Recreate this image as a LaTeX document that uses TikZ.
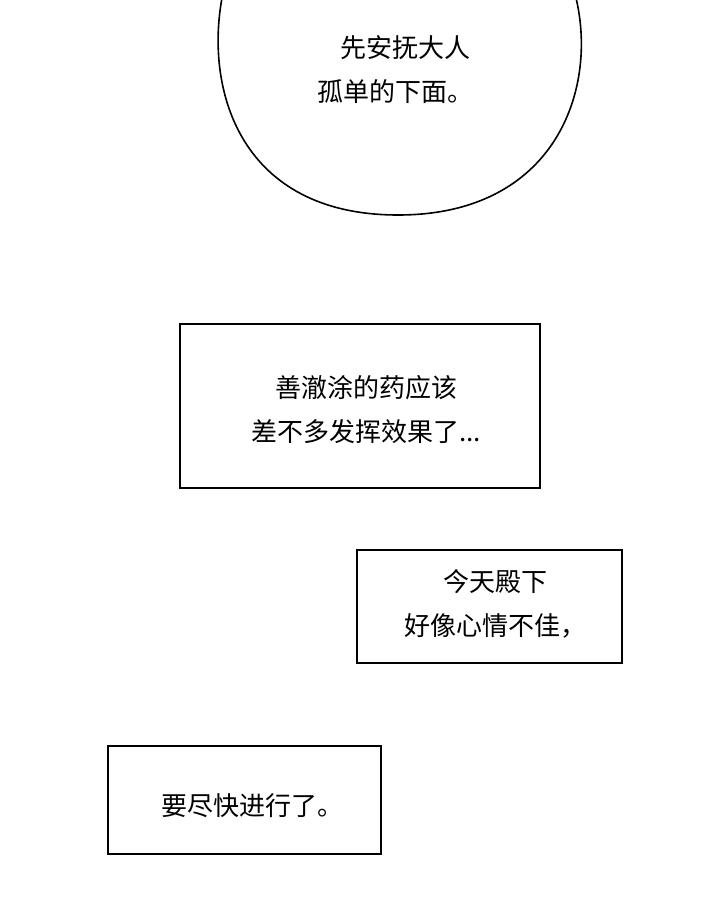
\documentclass[tikz,border=0pt]{standalone}
\usepackage{fontspec}
\newfontfamily\cjk{Noto Sans CJK SC}
\begin{document}
\begin{tikzpicture}[x=1pt,y=-1pt,
  txt/.style={font=\cjk\fontsize{26}{44}\selectfont, align=center, inner sep=0pt},
  boxs/.style={draw, line width=1.5pt}]
\useasboundingbox (0,0) rectangle (720,900);
\fill[white] (0,0) rectangle (720,900);
\draw[line width=1.6pt] (222,-2) .. controls (205,90) and (240,215) .. (398,215) .. controls (555,215) and (598,90) .. (576,-2);
\node[txt] (t0) at (395,70) {\hspace*{20pt}先安抚大人\\孤单的下面。};
\draw[boxs] (180,324) rectangle (540,488);
\node[txt] (t1) at (366,410) {善澈涂的药应该\\差不多发挥效果了...};
\draw[boxs] (357,550) rectangle (622,663);
\node[txt] (t2) at (495,604) {今天殿下\\好像心情不佳，};
\draw[boxs] (108,746) rectangle (381,854);
\node[txt] (t3) at (252,806) {要尽快进行了。};
\end{tikzpicture}
\end{document}
